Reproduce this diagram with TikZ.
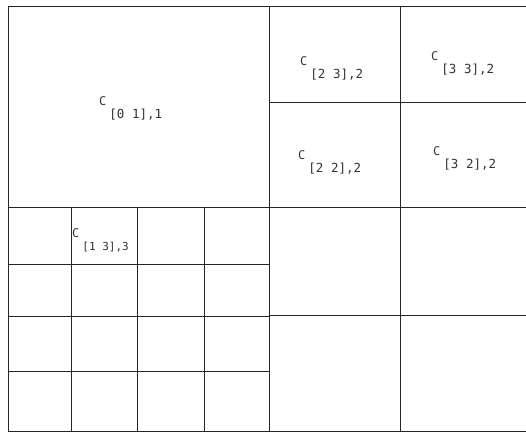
\documentclass[tikz,border=0pt]{standalone}
\usepackage{fontspec}
\setmainfont{DejaVu Sans Mono}
\newcommand{\clabel}[3][12.5]{{\fontsize{12}{14}\selectfont C}\hspace{3pt}%
    \raisebox{-13pt}{\fontsize{#1}{#1}\selectfont [#2],#3}}

\begin{document}
\begin{tikzpicture}[x=1pt, y=-1pt,
                gridline/.style={line width=1pt, black!85},
                cellname/.style={anchor=base west, inner sep=0pt, text=black!80}
            ]
                \useasboundingbox (0,0) rectangle (526,432);

                % outer frame (open on the right)
                \draw[gridline] (526,6) -- (8,6) -- (8,431) -- (526,431);

                % level 1 and 2 split
                \draw[gridline] (269,6) -- (269,431);
                \draw[gridline] (400,6) -- (400,431);
                \draw[gridline] (8,207) -- (526,207);
                \draw[gridline] (269,102) -- (526,102);
                \draw[gridline] (269,315) -- (526,315);

                % level 3 grid, lower left
                \foreach \y in {264, 316, 371}
                    \draw[gridline] (8,\y) -- (269,\y);
                \foreach \x in {71, 137, 204}
                    \draw[gridline] (\x,207) -- (\x,431);

                \node[cellname] (c01) at (99,105) {\clabel{0 1}{1}};
                \node[cellname] (c23) at (300,65) {\clabel{2 3}{2}};
                \node[cellname] (c33) at (431,60) {\clabel{3 3}{2}};
                \node[cellname] (c22) at (298,159) {\clabel{2 2}{2}};
                \node[cellname] (c32) at (433,155) {\clabel{3 2}{2}};
                \node[cellname] (c13) at (72,237) {\clabel[11]{1 3}{3}};

            \end{tikzpicture}
\end{document}
